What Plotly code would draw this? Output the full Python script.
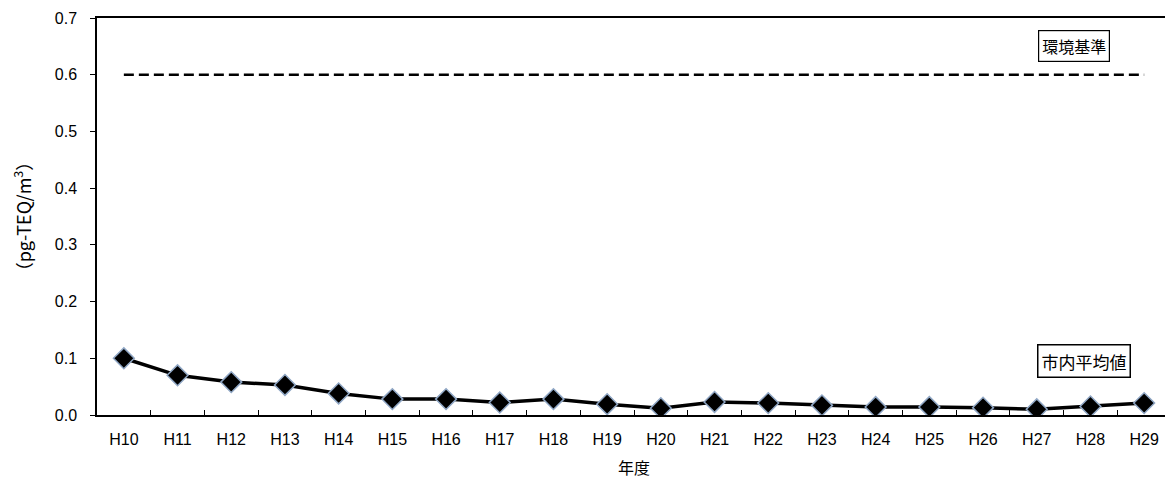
import plotly.graph_objects as go

years = ["H10", "H11", "H12", "H13", "H14", "H15", "H16", "H17", "H18", "H19",
         "H20", "H21", "H22", "H23", "H24", "H25", "H26", "H27", "H28", "H29"]
city_avg = [0.100, 0.070, 0.058, 0.053, 0.038, 0.028, 0.028, 0.022, 0.028, 0.019,
            0.012, 0.023, 0.021, 0.017, 0.014, 0.014, 0.013, 0.010, 0.015, 0.021]
standard = [0.6] * len(years)
y_ticks = [0.0, 0.1, 0.2, 0.3, 0.4, 0.5, 0.6, 0.7]

font_jp = "Noto Sans CJK JP"
font_lat = "Liberation Sans, Arial"

fig = go.Figure()
fig.add_trace(go.Scatter(
    x=years, y=standard, mode="lines",
    line=dict(color="black", width=2.5, dash="10px,5px"),
    showlegend=False, hoverinfo="skip"))
fig.add_trace(go.Scatter(
    x=years, y=city_avg, mode="lines+markers",
    line=dict(color="black", width=3.5),
    marker=dict(symbol="diamond", size=16, color="black",
                line=dict(color="#8fa6c4", width=1.5)),
    showlegend=False))

fig.add_annotation(x=17.7, y=0.651, xref="x", yref="y",
                   text="環境基準", showarrow=False,
                   font=dict(family=font_jp, size=16, color="black"),
                   bordercolor="black", borderwidth=1.2, borderpad=3,
                   bgcolor="white")
fig.add_annotation(x=17.88, y=0.095, xref="x", yref="y",
                   text="市内平均値", showarrow=False,
                   font=dict(family=font_jp, size=17, color="black"),
                   bordercolor="black", borderwidth=1.5, borderpad=3,
                   bgcolor="white")

fig.update_layout(
    width=1165, height=471,
    margin=dict(l=89, r=0, t=10, b=64),
    paper_bgcolor="white", plot_bgcolor="white",
    font=dict(family=font_lat, size=16, color="black"),
)
fig.update_xaxes(
    type="category", range=[-0.5, len(years) - 0.5],
    showline=True, linecolor="black", linewidth=1.5, mirror=True,
    ticks="inside", tickson="boundaries", ticklen=5, tickcolor="black",
    showgrid=False, zeroline=False,
    ticklabelstandoff=9,
    title=dict(text="年度", font=dict(family=font_jp, size=16), standoff=16),
    tickfont=dict(family=font_lat, size=16),
)
fig.update_yaxes(
    range=[0, 0.7], tickvals=y_ticks, tickformat=".1f",
    showline=True, linecolor="black", linewidth=1.5, mirror=True,
    ticks="outside", ticklen=5, tickcolor="black",
    showgrid=False, zeroline=False,
    ticklabelstandoff=10,
    title=dict(text="（pg-TEQ/m<sup>3</sup>）", font=dict(family=font_jp, size=18), standoff=20),
    tickfont=dict(family=font_lat, size=16),
)

fig.write_html("out.html")
